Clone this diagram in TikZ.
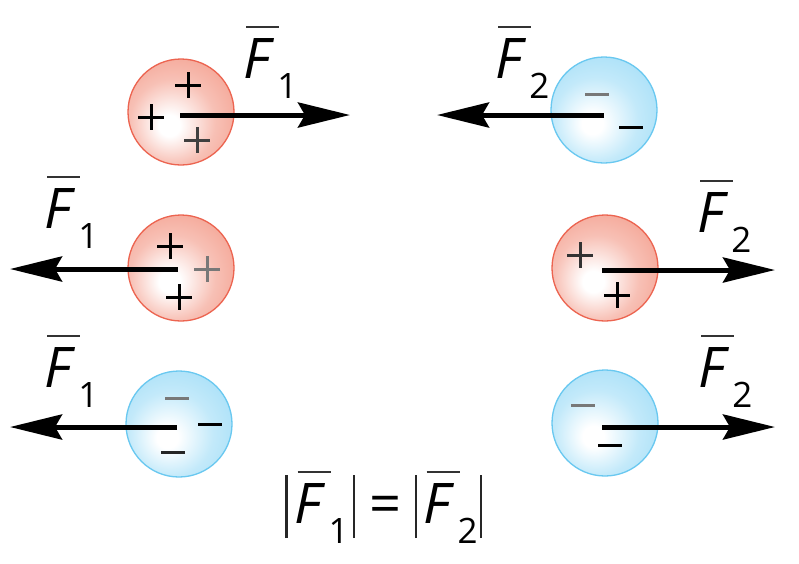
\documentclass[tikz,border=0pt]{standalone}
\usepackage{fontspec}
\setmainfont{Open Sans}
\usetikzlibrary{arrows.meta}
\definecolor{redfill}{RGB}{240,130,108}
\definecolor{redline}{RGB}{236,100,80}
\definecolor{bluefill}{RGB}{135,212,245}
\definecolor{blueline}{RGB}{105,200,240}
\definecolor{chgray}{RGB}{120,120,120}
\pgfdeclareradialshading{redsph}{\pgfpoint{-6bp}{-7bp}}{color(0bp)=(white); color(5bp)=(white); color(20bp)=(redfill!50!white); color(42bp)=(redfill!88!white); color(60bp)=(redfill)}
\pgfdeclareradialshading{bluesph}{\pgfpoint{-6bp}{-7bp}}{color(0bp)=(white); color(5bp)=(white); color(20bp)=(bluefill!50!white); color(42bp)=(bluefill!88!white); color(60bp)=(bluefill)}
\newcommand{\Fv}[1]{\fontsize{56}{56}\selectfont\rlap{\kern3pt\raisebox{50pt}{\color{black!80}\rule{33pt}{2.4pt}}}\textit{F}\kern3pt\raisebox{-20pt}{\fontsize{35}{35}\selectfont #1}}
\newcommand{\absbar}{{\color{black!85}\rule[-15pt]{2.4pt}{63pt}}}
\tikzset{
  x=1pt, y=-1pt,
  sphere/.style={circle, minimum size=106pt, inner sep=0pt, line width=1.3pt},
  redball/.style={sphere, shading=redsph, draw=redline},
  blueball/.style={sphere, shading=bluesph, draw=blueline},
  force/.style={line width=5pt, -{Stealth[length=52pt,width=25pt,inset=7pt]}},
  chg/.style={line width=3pt},
  flabel/.style={anchor=base west, inner sep=0pt}
}
\newcommand{\plus}[3][black]{\draw[chg,#1] (#2-13,#3) -- (#2+13,#3) (#2,#3-13) -- (#2,#3+13);}
\newcommand{\minus}[3][black]{\draw[chg,#1] (#2-12,#3) -- (#2+12,#3);}
\begin{document}
\begin{tikzpicture}
\useasboundingbox (0,0) rectangle (799,563);
% spheres
\node[redball] (tl) at (181,112) {};
\node[blueball] (tr) at (604,110) {};
\node[redball] (ml) at (181,268) {};
\node[redball] (mr) at (605,268) {};
\node[blueball] (bl) at (179,424) {};
\node[blueball] (br) at (605,423) {};
% charges
\plus{188}{85} \plus{151}{117} \plus[black!75]{197}{140}
\minus[chgray]{597}{94} \minus{631}{127}
\plus{170}{246} \plus[chgray]{207}{269} \plus{179}{297}
\plus[black!80]{580}{255} \plus{617}{295}
\minus[chgray]{177}{398} \minus{210}{424} \minus[black!85]{173}{452}
\minus[chgray]{583}{405} \minus{610}{445}
% arrow ends
\coordinate (tle) at (350,115);
\coordinate (tre) at (437,115);
\coordinate (mle) at (10,269);
\coordinate (mre) at (775,270);
\coordinate (ble) at (10,427);
\coordinate (bre) at (775,427);
\draw[force] ([xshift=-1pt,yshift=-3pt]tl.center) -- (tle);
\draw[force] ([yshift=-5pt]tr.center) -- (tre);
\draw[force] ([xshift=-3pt,yshift=-1pt]ml.center) -- (mle);
\draw[force] ([xshift=-3pt,yshift=-2pt]mr.center) -- (mre);
\draw[force] ([xshift=-2pt,yshift=-3pt]bl.center) -- (ble);
\draw[force] ([xshift=-3pt,yshift=-4pt]br.center) -- (bre);
% labels
\node[flabel] (ltl) at (243,78) {\Fv{1}};
\node[flabel] (ltr) at (495,78) {\Fv{2}};
\node[flabel] (lml) at (44,228) {\Fv{1}};
\node[flabel] (lmr) at (697,232) {\Fv{2}};
\node[flabel] (lbl) at (44,387) {\Fv{1}};
\node[flabel] (lbr) at (698,387) {\Fv{2}};
% formula
\node[flabel] (eq) at (285,523) {\fontsize{56}{56}\selectfont\absbar\kern7pt\Fv{1}\kern4pt\absbar\kern14pt=\kern14pt\absbar\kern6pt\Fv{2}\kern2pt\absbar};
\end{tikzpicture}
\end{document}
